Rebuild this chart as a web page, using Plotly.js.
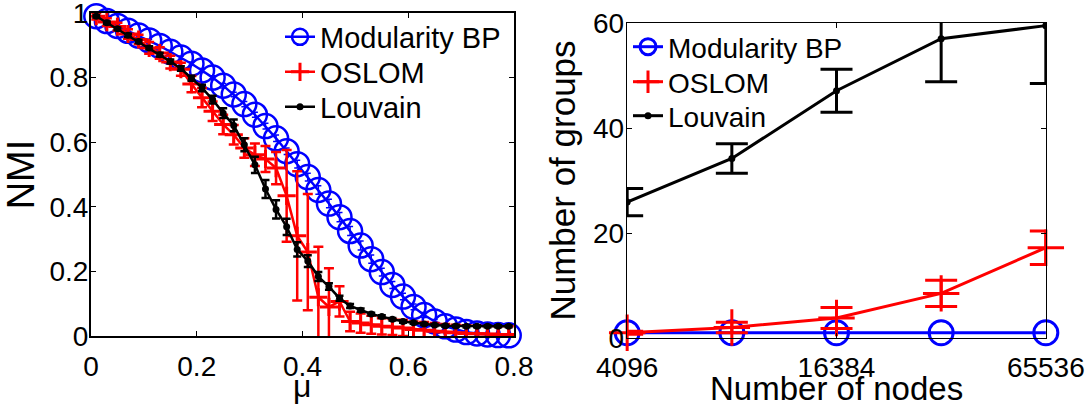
<!DOCTYPE html>
<html><head><meta charset="utf-8">
<script src="https://cdn.plot.ly/plotly-3.0.1.min.js"></script>
<style>body{margin:0;background:#fff}#plot{width:1090px;height:409px}</style>
</head><body><div id="plot"></div>
<script>
// ---- Left panel: NMI vs mu ----
const mu = [0.01,0.03,0.05,0.07,0.09,0.11,0.13,0.15,0.17,0.19,0.21,0.23,0.25,0.27,0.29,0.31,0.33,0.35,0.37,0.39,0.41,0.43,0.45,0.47,0.49,0.51,0.53,0.55,0.57,0.59,0.61,0.63,0.65,0.67,0.69,0.71,0.73,0.75,0.77,0.79];
const bpNMI = [0.99,0.975,0.96,0.945,0.93,0.915,0.898,0.88,0.862,0.843,0.822,0.8,0.775,0.748,0.718,0.685,0.65,0.612,0.572,0.532,0.492,0.452,0.41,0.368,0.325,0.28,0.238,0.198,0.158,0.122,0.09,0.065,0.045,0.03,0.02,0.012,0.008,0.005,0.003,0.002];
const bpErr = [0.003,0.003,0.003,0.003,0.004,0.004,0.004,0.005,0.005,0.005,0.006,0.006,0.007,0.007,0.008,0.008,0.009,0.01,0.01,0.012,0.012,0.013,0.013,0.014,0.014,0.014,0.013,0.012,0.011,0.01,0.009,0.008,0.006,0.005,0.004,0.003,0.003,0.002,0.002,0.002];
const oslomNMI = [0.99,0.972,0.958,0.935,0.918,0.892,0.876,0.848,0.826,0.78,0.738,0.696,0.655,0.623,0.582,0.561,0.548,0.52,0.434,0.31,0.26,0.12,0.09,0.107,0.045,0.04,0.035,0.03,0.028,0.025,0.02,0.018,0.015,0.012,0.01,0.008,0.007,0.006,0.005,0.005];
const oslomErr = [0.01,0.012,0.012,0.015,0.015,0.018,0.018,0.02,0.02,0.025,0.03,0.03,0.03,0.03,0.03,0.035,0.04,0.05,0.142,0.2,0.18,0.156,0.12,0.047,0.03,0.03,0.028,0.025,0.025,0.025,0.025,0.025,0.025,0.025,0.025,0.025,0.025,0.025,0.025,0.025];
const louvainNMI = [0.99,0.97,0.951,0.931,0.912,0.892,0.871,0.85,0.828,0.798,0.768,0.732,0.69,0.652,0.592,0.53,0.455,0.392,0.338,0.268,0.232,0.184,0.153,0.117,0.093,0.08,0.068,0.06,0.052,0.045,0.041,0.037,0.034,0.032,0.031,0.03,0.03,0.03,0.03,0.03];
const louvainErr = [0.004,0.004,0.004,0.005,0.005,0.005,0.006,0.006,0.007,0.008,0.01,0.012,0.015,0.018,0.02,0.025,0.028,0.028,0.025,0.022,0.018,0.014,0.01,0.008,0.006,0.005,0.004,0.004,0.004,0.004,0.003,0.003,0.003,0.003,0.003,0.003,0.003,0.003,0.003,0.003];
const muTicks = [0,0.2,0.4,0.6,0.8];
const muTickText = ['0','0.2','0.4','0.6','0.8'];
const nmiTicks = [0,0.2,0.4,0.6,0.8,1];
const nmiTickText = ['0','0.2','0.4','0.6','0.8','1'];

// ---- Right panel: number of groups vs number of nodes ----
const nodes = [4096,8192,16384,32768,65536];
const bpGroups = [1,1,1,1,1];
const oslomGroups = [1.0,2.0,3.8,8.5,17.2];
const oslomGroupsErr = [0.3,1.0,2.0,2.5,3.2];
const louvainGroups = [25.9,34.2,47.1,57.0,59.5];
const louvainGroupsErr = [2.6,2.8,4.1,8.2,11.0];
const nodeTicks = [4096,16384,65536];
const nodeTickText = ['4096','16384','65536'];
const groupTicks = [0,20,40,60];
const groupTickText = ['0','20','40','60'];

const names = ['Modularity BP','OSLOM','Louvain'];
const axisTitles = {mu:'μ', nmi:'NMI', nodes:'Number of nodes', groups:'Number of groups'};
const BLUE = '#0000ff', RED = '#ff0000', BLACK = '#000000';
const FONT = 'Liberation Sans, Arial, Helvetica, sans-serif';

const traces = [
  {x: mu, y: bpNMI, name: names[0], type:'scatter', mode:'lines+markers', xaxis:'x', yaxis:'y', legend:'legend',
   line:{color:BLUE,width:2.5}, marker:{symbol:'circle-open',size:24,color:BLUE,line:{width:2.5,color:BLUE}},
   error_y:{type:'data',array:bpErr,color:BLUE,thickness:1.5,width:3}, cliponaxis:false},
  {x: mu, y: oslomNMI, name: names[1], type:'scatter', mode:'lines+markers', xaxis:'x', yaxis:'y', legend:'legend2',
   line:{color:RED,width:2.5}, marker:{symbol:'cross-thin-open',size:13,color:RED,line:{width:3,color:RED}},
   error_y:{type:'data',array:oslomErr,color:RED,thickness:2.5,width:5}},
  {x: mu, y: louvainNMI, name: names[2], type:'scatter', mode:'lines+markers', xaxis:'x', yaxis:'y', legend:'legend3',
   line:{color:BLACK,width:2.5}, marker:{symbol:'circle',size:7,color:BLACK},
   error_y:{type:'data',array:louvainErr,color:BLACK,thickness:2.5,width:4}},
  {x: nodes, y: bpGroups, name: names[0], type:'scatter', mode:'lines+markers', xaxis:'x2', yaxis:'y2', legend:'legend4',
   line:{color:BLUE,width:3}, marker:{symbol:'circle-open',size:24,color:BLUE,line:{width:3,color:BLUE}}, cliponaxis:false},
  {x: nodes, y: oslomGroups, name: names[1], type:'scatter', mode:'lines+markers', xaxis:'x2', yaxis:'y2', legend:'legend5',
   line:{color:RED,width:3}, marker:{symbol:'cross-thin-open',size:26,color:RED,line:{width:3,color:RED}},
   error_y:{type:'data',array:oslomGroupsErr,color:RED,thickness:3,width:16}, cliponaxis:false},
  {x: nodes, y: louvainGroups, name: names[2], type:'scatter', mode:'lines+markers', xaxis:'x2', yaxis:'y2', legend:'legend6',
   line:{color:BLACK,width:3}, marker:{symbol:'circle',size:7,color:BLACK},
   error_y:{type:'data',array:louvainGroupsErr,color:BLACK,thickness:3,width:16}}
];

const W = 1090, H = 409;
function axBase(lw){
  return {showgrid:false, zeroline:false, showline:true, linecolor:BLACK, linewidth:lw, mirror:'ticks',
    ticks:'inside', ticklen:5, tickwidth:1, tickcolor:BLACK, automargin:false, ticklabeloverflow:'allow',
    tickfont:{family:FONT,size:28,color:BLACK}};
}
function leg(xpx, ypx, size){
  return {x:xpx/W, y:1-ypx/H, xanchor:'left', yanchor:'middle', bgcolor:'rgba(0,0,0,0)', borderwidth:0,
    font:{family:FONT,size:size,color:BLACK}, itemsizing:'trace'};
}
function xTitle(text, xpx, ypx, size){
  return {text:text, xref:'paper', yref:'paper', x:xpx/W, y:1-ypx/H, xanchor:'center', yanchor:'middle',
    showarrow:false, font:{family:FONT,size:size,color:BLACK}};
}
const lx0 = Math.log10(nodes[0]), lx1 = Math.log10(nodes[nodes.length-1]);
const layout = {
  width:W, height:H, margin:{l:0,r:0,t:0,b:0}, paper_bgcolor:'#fff', plot_bgcolor:'#fff',
  font:{family:FONT,color:BLACK}, showlegend:true,
  xaxis: Object.assign(axBase(2), {domain:[91/W,514/W], range:[0,0.8], tickmode:'array', tickvals:muTicks, ticktext:muTickText,
    ticklabelstandoff:4}),
  yaxis: Object.assign(axBase(2), {domain:[(H-336)/H,(H-13)/H], range:[0,1], tickmode:'array', tickvals:nmiTicks, ticktext:nmiTickText,
    ticklabelstandoff:-5, title:{text:axisTitles.nmi, font:{family:FONT,size:38,color:BLACK}, standoff:6}}),
  xaxis2: Object.assign(axBase(1.3), {anchor:'y2', domain:[627/W,1046/W], type:'log', range:[lx0-0.0005,lx1+0.0005],
    tickmode:'array', tickvals:nodeTicks, ticktext:nodeTickText, ticklabelstandoff:4}),
  yaxis2: Object.assign(axBase(1.3), {anchor:'x2', domain:[(H-338)/H,(H-23)/H], range:[0,60], tickmode:'array', tickvals:groupTicks, ticktext:groupTickText,
    ticklabelstandoff:-4, title:{text:axisTitles.groups, font:{family:FONT,size:35,color:BLACK}, standoff:6}}),
  annotations: [
    xTitle(axisTitles.mu, 302, 386, 32),
    xTitle(axisTitles.nodes, 836, 388, 33)
  ],
  legend: leg(280, 37, 29),
  legend2: leg(280, 72, 29),
  legend3: leg(280, 107, 29),
  legend4: leg(628, 47, 28),
  legend5: leg(628, 82, 28),
  legend6: leg(628, 116, 28)
};
Plotly.newPlot('plot', traces, layout, {displayModeBar:false, staticPlot:true});
</script>
</body></html>
